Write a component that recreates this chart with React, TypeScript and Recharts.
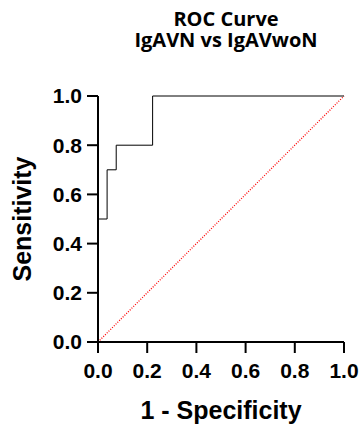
import React from "react";
import { LineChart, Line, XAxis, YAxis, ReferenceLine } from "recharts";

const fprValues = [0, 0, 0.037, 0.037, 0.074, 0.074, 0.222, 0.222, 1];
const tprValues = [0, 0.5, 0.5, 0.7, 0.7, 0.8, 0.8, 1, 1];
const tickValues = [0, 0.2, 0.4, 0.6, 0.8, 1];
const titleLines = ["ROC Curve", "IgAVN vs IgAVwoN"];
const xTitle = "1 - Specificity";
const yTitle = "Sensitivity";

const rocData = fprValues.map((f, i) => ({ fpr: f, tpr: tprValues[i] }));

const AX = "Liberation Sans, Arial, sans-serif";

export default function App() {
  return (
    <div style={{ position: "absolute", left: 0, top: 0, width: 362, height: 425, background: "#fff" }}>
      <div
        style={{
          position: "absolute",
          left: 106,
          width: 240,
          top: 8,
          textAlign: "center",
          fontFamily: "'Open Sans', sans-serif",
          fontWeight: 700,
          fontSize: 20,
          lineHeight: "21px",
          color: "#000",
        }}
      >
        {titleLines.map((t) => (
          <div key={t}>{t}</div>
        ))}
      </div>
      <LineChart
        width={362}
        height={425}
        data={rocData}
        margin={{ top: 96, right: 18, bottom: 0, left: 0 }}
      >
        <XAxis
          type="number"
          dataKey="fpr"
          domain={[0, 1]}
          ticks={tickValues}
          tickFormatter={(v: number) => v.toFixed(1)}
          height={83}
          tickSize={11}
          tickMargin={10}
          axisLine={{ stroke: "#000", strokeWidth: 2 }}
          tickLine={{ stroke: "#000", strokeWidth: 2 }}
          tick={{ fill: "#000", fontSize: 21, fontWeight: 700, fontFamily: AX }}
          label={{
            value: xTitle,
            position: "insideBottom",
            offset: 6,
            fill: "#000",
            fontSize: 25,
            fontWeight: 700,
            fontFamily: AX,
          }}
        />
        <YAxis
          type="number"
          domain={[0, 1]}
          ticks={tickValues}
          tickFormatter={(v: number) => v.toFixed(1)}
          width={98}
          tickSize={11}
          tickMargin={5}
          axisLine={{ stroke: "#000", strokeWidth: 2 }}
          tickLine={{ stroke: "#000", strokeWidth: 2 }}
          tick={{ fill: "#000", fontSize: 21, fontWeight: 700, fontFamily: AX }}
          label={{
            value: yTitle,
            angle: -90,
            position: "insideLeft",
            offset: 22,
            fill: "#000",
            fontSize: 25,
            fontWeight: 700,
            fontFamily: AX,
            style: { textAnchor: "middle" },
          }}
        />
        <ReferenceLine
          segment={[
            { x: 0, y: 0 },
            { x: 1, y: 1 },
          ]}
          stroke="#ff0000"
          strokeWidth={1.3}
          strokeDasharray="1 1.5"
        />
        <Line
          dataKey="tpr"
          type="linear"
          stroke="#000"
          strokeWidth={1}
          dot={false}
          isAnimationActive={false}
        />
      </LineChart>
    </div>
  );
}
